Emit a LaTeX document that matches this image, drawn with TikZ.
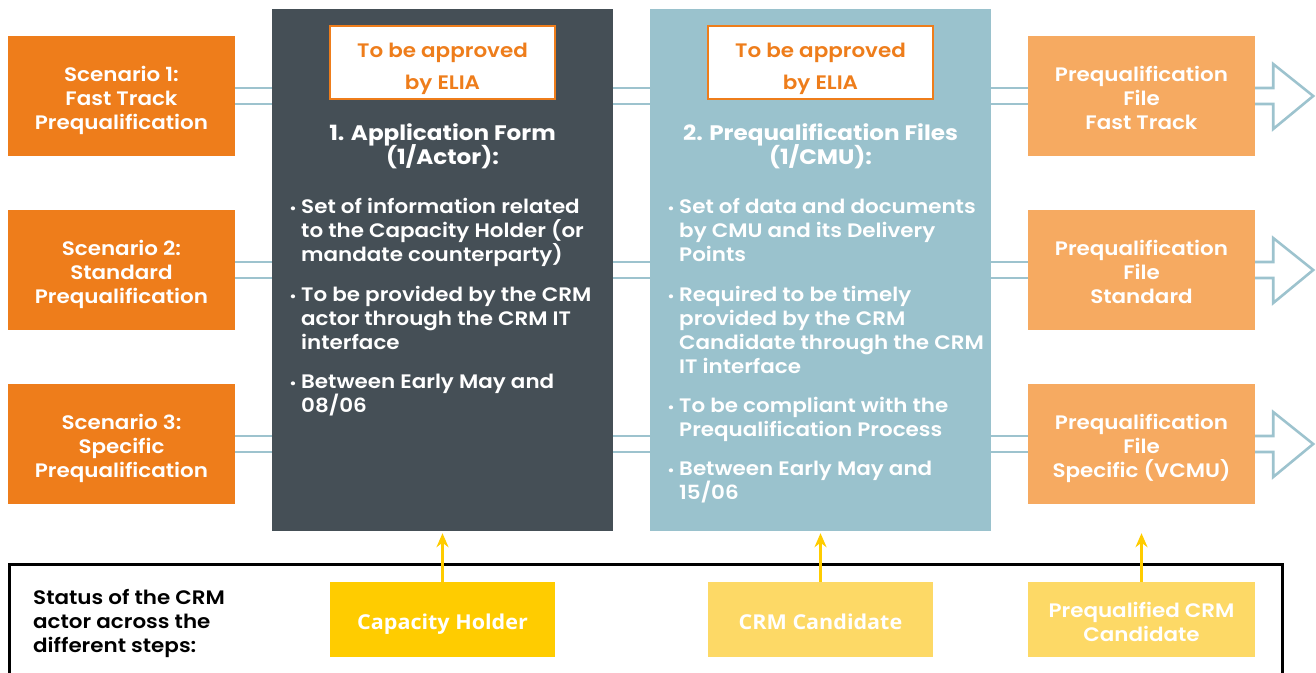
\documentclass[tikz,border=0pt]{standalone}
\usepackage{fontspec}
\setmainfont{Poppins}[UprightFont=* SemiBold, BoldFont=* Bold, FakeStretch=1.1]
\newfontfamily\osans{Open Sans}[FakeStretch=1.05]
\usetikzlibrary{arrows.meta}
\definecolor{corange}{HTML}{EE7D1B}
\definecolor{cdark}{HTML}{454F56}
\definecolor{cblue}{HTML}{9AC2CD}
\definecolor{clink}{HTML}{9DC3CE}
\definecolor{cpeach}{HTML}{F6AA61}
\definecolor{cyel}{HTML}{FFCC00}
\definecolor{cyel2}{HTML}{FDD966}
\begin{document}
\begin{tikzpicture}[x=1pt,y=-1pt,
  sbox/.style={rectangle, inner sep=0, minimum width=227pt, minimum height=120pt, fill=corange},
  rbox/.style={rectangle, inner sep=0, minimum width=227pt, minimum height=120pt, fill=cpeach},
  bigbox/.style={rectangle, inner sep=0, minimum width=341pt, minimum height=522pt},
  appbox/.style={rectangle, inner sep=0, minimum width=225pt, minimum height=73pt, fill=white, draw=corange, line width=2pt},
  ybox/.style={rectangle, inner sep=0, minimum width=225pt, minimum height=75pt},
  link/.style={draw=clink, line width=2.6pt},
  yarrow/.style={draw=cyel, line width=2.6pt, -{Stealth[length=14pt,width=12pt]}},
  ln/.style={text=white, inner sep=0, anchor=base, font=\fontsize{19.5}{24}\selectfont},
  lnl/.style={ln, anchor=base west},
  ttl/.style={ln, font=\fontsize{21}{24}\selectfont\bfseries},
  apt/.style={ln, text=corange, font=\fontsize{19.5}{24}\selectfont},
  bul/.style={ln, anchor=base east, font=\fontsize{14}{24}\selectfont},
  ost/.style={ln, font=\osans\fontsize{20.5}{24}\selectfont\bfseries},
]
\useasboundingbox (0,0) rectangle (1316,672);
\clip (0,0) rectangle (1316,672);

% main boxes
\node[bigbox, fill=cdark] (dark) at (442.5,270) {};
\node[bigbox, fill=cblue] (blue) at (820.5,270) {};
\foreach \i/\c in {1/96,2/270,3/444} {
  \node[sbox] (s\i) at (121.5,\c) {};
  \node[rbox] (r\i) at (1141.5,\c) {};
}

% double links
\foreach \i in {1,2,3} {
  \foreach \d in {8pt,-8pt} {
    \draw[link] ([yshift=\d]s\i.east) -- ([yshift=\d]s\i.east -| dark.west);
    \draw[link] ([yshift=\d]s\i.east -| dark.east) -- ([yshift=\d]s\i.east -| blue.west);
    \draw[link] ([yshift=\d]s\i.east -| blue.east) -- ([yshift=\d]r\i.west);
  }
  \draw[link, line join=miter] ([yshift=8pt]r\i.east) -- ++(18,0) -- ++(0,-24) -- ++(40,32) -- ++(-40,33) -- ++(0,-25) -- ++(-18,0);
}

% scenario texts
\node[ln] (s1a) at (121.5,81) {Scenario 1:};
\node[ln] (s1b) at (121.5,105) {Fast Track};
\node[ln] (s1c) at (121.5,129) {Prequalification};
\node[ln] (s2a) at (121.5,255) {Scenario 2:};
\node[ln] (s2b) at (121.5,279) {Standard};
\node[ln] (s2c) at (121.5,303) {Prequalification};
\node[ln] (s3a) at (121.5,429) {Scenario 3:};
\node[ln] (s3b) at (121.5,453) {Specific};
\node[ln] (s3c) at (121.5,477) {Prequalification};

\node[ln] (r1a) at (1141.5,81) {Prequalification};
\node[ln] (r1b) at (1141.5,105) {File};
\node[ln] (r1c) at (1141.5,129) {Fast Track};
\node[ln] (r2a) at (1141.5,255) {Prequalification};
\node[ln] (r2b) at (1141.5,279) {File};
\node[ln] (r2c) at (1141.5,303) {Standard};
\node[ln] (r3a) at (1141.5,429) {Prequalification};
\node[ln] (r3b) at (1141.5,453) {File};
\node[ln] (r3c) at (1141.5,477) {Specific (VCMU)};

% approval boxes
\node[appbox] (ap1) at (442.5,62.5) {};
\node[appbox] (ap2) at (820.5,62.5) {};
\node[apt] (ap1a) at (442.5,57) {To be approved};
\node[apt] (ap1b) at (442.5,89) {by ELIA};
\node[apt] (ap2a) at (820.5,57) {To be approved};
\node[apt] (ap2b) at (820.5,89) {by ELIA};

% dark box text
\node[ttl] (d0a) at (442.5,140) {1. Application Form};
\node[ttl] (d0b) at (442.5,164) {(1/Actor):};
\node[bul] (d1) at (297,213) {•};
\node[lnl] (d1a) at (301,213) {Set of information related};
\node[lnl] (d1b) at (301,237) {to the Capacity Holder (or};
\node[lnl] (d1c) at (301,261) {mandate counterparty)};
\node[bul] (d2) at (297,301) {•};
\node[lnl] (d2a) at (301,301) {To be provided by the CRM};
\node[lnl] (d2b) at (301,325) {actor through the CRM IT};
\node[lnl] (d2c) at (301,349) {interface};
\node[bul] (d3) at (297,388) {•};
\node[lnl] (d3a) at (301,388) {Between Early May and};
\node[lnl] (d3b) at (301,412) {08/06};

% blue box text
\node[ttl] (b0a) at (820.5,140) {2. Prequalification Files};
\node[ttl] (b0b) at (820.5,164) {(1/CMU):};
\node[bul] (b1) at (675,213) {•};
\node[lnl] (b1a) at (679,213) {Set of data and documents};
\node[lnl] (b1b) at (679,237) {by CMU and its Delivery};
\node[lnl] (b1c) at (679,261) {Points};
\node[bul] (b2) at (675,301) {•};
\node[lnl] (b2a) at (679,301) {Required to be timely};
\node[lnl] (b2b) at (679,325) {provided by the CRM};
\node[lnl] (b2c) at (679,349) {Candidate through the CRM};
\node[lnl] (b2d) at (679,373) {IT interface};
\node[bul] (b3) at (675,412) {•};
\node[lnl] (b3a) at (679,412) {To be compliant with the};
\node[lnl] (b3b) at (679,436) {Prequalification Process};
\node[bul] (b4) at (675,475) {•};
\node[lnl] (b4a) at (679,475) {Between Early May and};
\node[lnl] (b4b) at (679,499) {15/06};

% bottom status frame
\node[draw=black, line width=3pt, rectangle, inner sep=0, minimum width=1273pt, minimum height=140pt, anchor=north west] (frame) at (8,563) {};
\node[lnl, text=black] (st1) at (33,604) {Status of the CRM};
\node[lnl, text=black] (st2) at (33,628) {actor across the};
\node[lnl, text=black] (st3) at (33,652) {different steps:};

\node[ybox, fill=cyel] (cap) at (442.5,619.5) {};
\node[ybox, fill=cyel2] (cand) at (820.5,619.5) {};
\node[ybox, fill=cyel2, minimum width=227pt] (pq) at (1141.5,619.5) {};
\node[ost] (capt) at (442.5,629) {Capacity Holder};
\node[ost] (candt) at (820.5,629) {CRM Candidate};
\node[ln] (pqa) at (1141.5,617) {Prequalified CRM};
\node[ln] (pqb) at (1141.5,641) {Candidate};

\draw[yarrow] (cap.north) -- ([yshift=-2pt]cap.north |- dark.south);
\draw[yarrow] (cand.north) -- ([yshift=-2pt]cand.north |- blue.south);
\draw[yarrow] (pq.north) -- ([yshift=-2pt]pq.north |- blue.south);
\end{tikzpicture}
\end{document}
